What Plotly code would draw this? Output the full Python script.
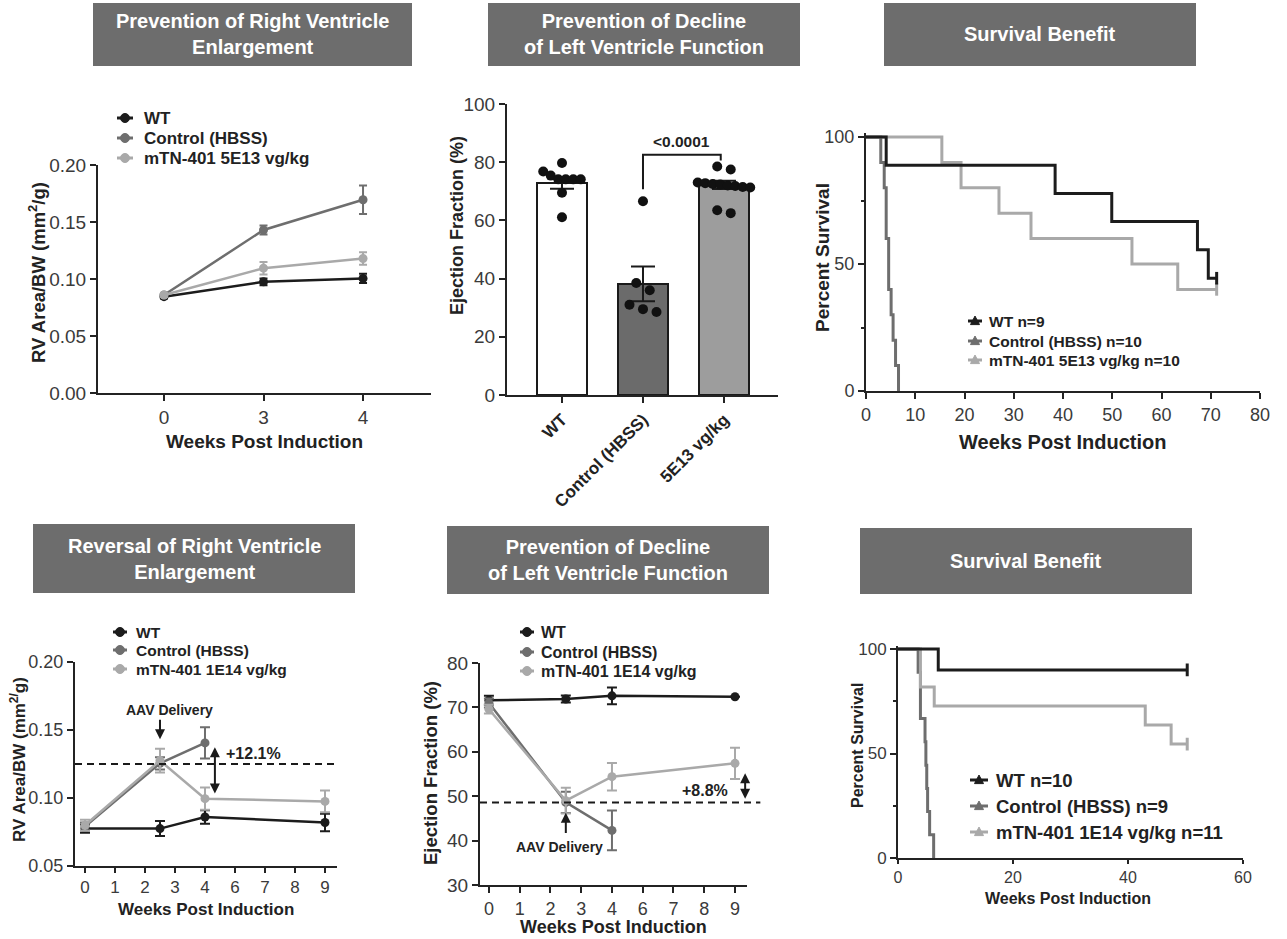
import plotly.graph_objects as go

W, H = 1287, 939
OFF = 0  # page body margin is removed in the written page (see write_html post_script)
FW, FH = W - OFF, H - OFF
def fx(p): return (p - OFF) / FW
def fy(p): return 1 - (p - OFF) / FH

FONT = "Liberation Sans, Arial, sans-serif"
C_WT = "#1c1c1c"; C_CTRL = "#6e6e6e"; C_MTN = "#a9a9a9"
AX = "#232323"; TICK_C = "#3a3a3a"; HEAD = "#6d6d6d"; TXT = "#222222"

# ---------------- Panel A : RV area, prevention ----------------
a_weeks = ["0", "3", "4"]
a_names = ["WT", "Control (HBSS)", "mTN-401 5E13 vg/kg"]
a_wt = [0.0845, 0.0975, 0.1005]
a_wt_err = [0.0015, 0.0030, 0.0040]
a_ctrl = [0.0860, 0.1430, 0.1695]
a_ctrl_err = [0.0015, 0.0040, 0.0125]
a_mtn = [0.0860, 0.1095, 0.1180]
a_mtn_err = [0.0015, 0.0055, 0.0055]

# ---------------- Panel B : ejection fraction bars ----------------
b_groups = ["WT", "Control (HBSS)", "5E13 vg/kg"]
b_mean = [72.7, 38.2, 72.2]
b_sem = [1.8, 6.0, 1.4]
b_wt_pts = [79.7, 76.8, 75.4, 74.1, 74.1, 74.1, 74.1, 69.5, 61.1]
b_ctrl_pts = [66.6, 38.5, 36.0, 31.0, 29.5, 28.5]
b_5e13_pts = [78.5, 77.5, 73.0, 72.8, 72.5, 72.3, 72.0, 71.8, 71.5, 71.3, 63.5, 62.5]
b_pvalue = "<0.0001"

# ---------------- Panel C : survival (5E13) ----------------
c_names = ["WT n=9", "Control (HBSS) n=10", "mTN-401 5E13 vg/kg n=10"]
c_wt_t = [0, 4.1, 38.4, 49.9, 67.3, 69.5, 71.2]
c_wt_s = [100, 88.9, 77.8, 66.7, 55.6, 44.4, 44.4]
c_ctrl_t = [0, 3.0, 3.7, 4.1, 4.6, 5.1, 5.5, 6.0, 6.6]
c_ctrl_s = [100, 90, 80, 60, 40, 30, 20, 10, 0]
c_mtn_t = [0, 15.4, 19.3, 27.0, 33.5, 54.0, 63.3, 71.2]
c_mtn_s = [100, 90, 80, 70, 60, 50, 40, 40]

# ---------------- Panel D : RV area, reversal ----------------
d_names = ["WT", "Control (HBSS)", "mTN-401 1E14 vg/kg"]
d_weeks = [0, 2.5, 4, 9]
d_ctrl_weeks = [0, 2.5, 4]
d_tick_weeks = [0, 1, 2, 3, 4, 6, 7, 8, 9]
d_wt = [0.0775, 0.0775, 0.0860, 0.0820]
d_wt_err = [0.0030, 0.0055, 0.0050, 0.0065]
d_ctrl = [0.0790, 0.1255, 0.1405]
d_ctrl_err = [0.0030, 0.0045, 0.0115]
d_mtn = [0.0800, 0.1275, 0.0995, 0.0975]
d_mtn_err = [0.0040, 0.0088, 0.0082, 0.0080]
d_baseline = 0.125
d_delta = "+12.1%"

# ---------------- Panel E : EF, reversal ----------------
e_weeks = [0, 2.5, 4, 9]
e_ctrl_weeks = [0, 2.5, 4]
e_wt = [71.6, 71.9, 72.6, 72.4]
e_wt_err = [1.0, 0.8, 1.9, 0.0]
e_ctrl = [71.0, 48.6, 42.3]
e_ctrl_err = [1.0, 2.4, 4.5]
e_mtn = [69.6, 49.0, 54.4, 57.4]
e_mtn_err = [1.0, 2.9, 3.1, 3.5]
e_baseline = 48.6
e_delta = "+8.8%"

# ---------------- Panel F : survival (1E14) ----------------
f_names = ["WT n=10", "Control (HBSS) n=9", "mTN-401 1E14 vg/kg n=11"]
f_wt_t = [0, 7.0, 50.3]
f_wt_s = [100, 90, 90]
f_ctrl_t = [0, 3.5, 3.9, 4.7, 4.85, 5.0, 5.15, 5.5, 6.2]
f_ctrl_s = [100, 88.9, 66.7, 55.6, 44.4, 33.3, 22.2, 11.1, 0]
f_mtn_t = [0, 3.9, 6.3, 43.0, 47.5, 50.3]
f_mtn_s = [100, 81.8, 72.7, 63.6, 54.5, 54.5]

headers = [
    ("Prevention of Right Ventricle<br>Enlargement", 93, 412, 3, 66),
    ("Prevention of Decline<br>of Left Ventricle Function", 488, 800, 3, 66),
    ("Survival Benefit", 884, 1196, 3, 66),
    ("Reversal of Right Ventricle<br>Enlargement", 33, 355, 524, 593),
    ("Prevention of Decline<br>of Left Ventricle Function", 447, 769, 526, 594),
    ("Survival Benefit", 860, 1192, 528, 594),
]


def broken_pos(w):
    # the week axis skips 5 (equally spaced ticks 0,1,2,3,4,6,7,8,9)
    return w if w <= 4 else w - 1


fig = go.Figure()
colors = [C_WT, C_CTRL, C_MTN]


def err(arr, color, width=4):
    return dict(type="data", array=arr, visible=True, color=color, thickness=2, width=width)


# ---- Panel A traces
for name, ys, es, col in zip(a_names, [a_wt, a_ctrl, a_mtn], [a_wt_err, a_ctrl_err, a_mtn_err], colors):
    fig.add_trace(go.Scatter(x=a_weeks, y=ys, name=name, mode="lines+markers",
                             line=dict(color=col, width=2.5), marker=dict(color=col, size=9),
                             error_y=err(es, col, 4), xaxis="x", yaxis="y"))

# ---- Panel B traces
b_x = list(range(len(b_groups)))
fig.add_trace(go.Bar(x=b_x, y=b_mean, width=0.62,
                     marker=dict(color=["#ffffff", "#6b6b6b", "#9d9d9d"], line=dict(color="#1a1a1a", width=2)),
                     error_y=dict(type="data", array=b_sem, color="#1a1a1a", thickness=2, width=12),
                     xaxis="x2", yaxis="y2"))

B_XR = [-0.679, 2.667]
B_DOM = (507, 778)
b_pxx = (B_DOM[1] - B_DOM[0]) / (B_XR[1] - B_XR[0])
b_pxy = (395 - 104) / 100.0


def swarm(vals, center, gap_px=7.5, diam_px=10):
    order = sorted(vals, reverse=True)
    clusters = []
    for v in order:
        if clusters and (clusters[-1][-1] - v) * b_pxy < 0.8 * diam_px:
            clusters[-1].append(v)
        else:
            clusters.append([v])
    xs, ys = [], []
    for cl in clusters:
        n = len(cl)
        g = gap_px if n > 3 else gap_px * 1.8
        for i, v in enumerate(cl):
            xs.append(center + (i - (n - 1) / 2) * g / b_pxx)
            ys.append(v)
    return xs, ys


for i, pts in enumerate([b_wt_pts, b_ctrl_pts, b_5e13_pts]):
    xs, ys = swarm(pts, b_x[i])
    fig.add_trace(go.Scatter(x=xs, y=ys, mode="markers",
                             marker=dict(color="#111111", size=10), xaxis="x2", yaxis="y2"))


# ---- KM helper
def km_panel(curves, xa, ya):
    for idx in [1, 2, 0]:  # WT drawn last (on top)
        t, s, col = curves[idx]
        fig.add_trace(go.Scatter(x=t, y=s, mode="lines", line=dict(color=col, width=3, shape="hv"),
                                 xaxis=xa, yaxis=ya, hoverinfo="skip"))
        if s[-1] > 0:  # censored tail mark
            fig.add_trace(go.Scatter(x=[t[-1]], y=[s[-1]], mode="markers",
                                     marker=dict(symbol="line-ns-open", size=9, color=col,
                                                 line=dict(color=col, width=3)),
                                     xaxis=xa, yaxis=ya, hoverinfo="skip"))


km_panel([(c_wt_t, c_wt_s, C_WT), (c_ctrl_t, c_ctrl_s, C_CTRL), (c_mtn_t, c_mtn_s, C_MTN)], "x3", "y3")

# ---- Panel D traces
for name, wk, ys, es, col in zip(d_names, [d_weeks, d_ctrl_weeks, d_weeks], [d_wt, d_ctrl, d_mtn],
                                 [d_wt_err, d_ctrl_err, d_mtn_err], colors):
    fig.add_trace(go.Scatter(x=[broken_pos(w) for w in wk], y=ys, name=name, mode="lines+markers",
                             line=dict(color=col, width=2.5), marker=dict(color=col, size=9),
                             error_y=err(es, col, 5), xaxis="x4", yaxis="y4"))

# ---- Panel E traces
for name, wk, ys, es, col in zip(d_names, [e_weeks, e_ctrl_weeks, e_weeks], [e_wt, e_ctrl, e_mtn],
                                 [e_wt_err, e_ctrl_err, e_mtn_err], colors):
    fig.add_trace(go.Scatter(x=[broken_pos(w) for w in wk], y=ys, name=name, mode="lines+markers",
                             line=dict(color=col, width=2.5), marker=dict(color=col, size=9),
                             error_y=err(es, col, 5), xaxis="x5", yaxis="y5"))

km_panel([(f_wt_t, f_wt_s, C_WT), (f_ctrl_t, f_ctrl_s, C_CTRL), (f_mtn_t, f_mtn_s, C_MTN)], "x6", "y6")


# ---------------- axes ----------------
def ax(dom, rng, size=18, **kw):
    d = dict(domain=dom, range=rng, showline=True, linecolor=AX, linewidth=2, ticks="outside",
             ticklen=6, tickwidth=2, tickcolor=AX, showgrid=False, zeroline=False,
             tickfont=dict(family=FONT, size=size, color=TICK_C), fixedrange=True, automargin=False)
    d.update(kw)
    return d


def xdom(a, b): return [fx(a), fx(b)]
def ydom(top, bottom): return [fy(bottom), fy(top)]


km_c_top = 391 - 101.5 * (391 - 137) / 100
km_f_top = 858 - 101.5 * (858 - 649) / 100
d_tickpos = [broken_pos(w) for w in d_tick_weeks]
d_ticktext = [str(w) for w in d_tick_weeks]

fig.update_layout(
    xaxis=ax(xdom(98, 431), [-0.663, 2.683], 19, type="category", anchor="y"),
    yaxis=ax(ydom(165, 393), [0, 0.20], 19, dtick=0.05, tickformat=".2f", anchor="x"),
    xaxis2=ax(xdom(*B_DOM), B_XR, 17, tickvals=b_x, ticktext=b_groups, tickangle=-45,
              tickfont=dict(family=FONT, size=17, color=TXT, weight="bold"), anchor="y2"),
    yaxis2=ax(ydom(104, 395), [0, 100], 19, dtick=20, anchor="x2"),
    xaxis3=ax(xdom(866, 1260), [0, 80], 18, dtick=10, anchor="y3"),
    yaxis3=ax(ydom(km_c_top, 391), [0, 101.5], 18, tickvals=[0, 50, 100], anchor="x3",
              minor=dict(tickvals=[25, 75], ticks="outside", ticklen=3, tickwidth=1.5, tickcolor=AX)),
    xaxis4=ax(xdom(75, 337), [-0.333, 8.4], 17, tickvals=d_tickpos, ticktext=d_ticktext, anchor="y4",
              ticklen=5),
    yaxis4=ax(ydom(662, 866), [0.05, 0.20], 18, dtick=0.05, tickformat=".2f", anchor="x4"),
    xaxis5=ax(xdom(480, 747), [-0.29, 8.39], 18, tickvals=d_tickpos, ticktext=d_ticktext, anchor="y5"),
    yaxis5=ax(ydom(663, 885), [30, 80], 19, dtick=10, anchor="x5"),
    xaxis6=ax(xdom(898, 1243), [0, 60], 16, dtick=20, anchor="y6", ticklen=4),
    yaxis6=ax(ydom(km_f_top, 858), [0, 101.5], 17, tickvals=[0, 50, 100], anchor="x6",
              minor=dict(tickvals=[25, 75], ticks="outside", ticklen=3, tickwidth=1.5, tickcolor=AX)),
)

# ---------------- annotations & shapes ----------------
ann = []
shapes = []

for text, x0, x1, y0, y1 in headers:
    shapes.append(dict(type="rect", xref="paper", yref="paper", x0=fx(x0), x1=fx(x1), y0=fy(y1), y1=fy(y0),
                       fillcolor=HEAD, line=dict(width=0), layer="below"))
    ann.append(dict(xref="paper", yref="paper", x=fx((x0 + x1) / 2), y=fy((y0 + y1) / 2), text=text,
                    showarrow=False, xanchor="center", yanchor="middle",
                    font=dict(family=FONT, size=20, color="white", weight="bold")))


def title(text, x, y, size, angle=0):
    ann.append(dict(xref="paper", yref="paper", x=fx(x), y=fy(y), text=text, showarrow=False,
                    xanchor="center", yanchor="middle", textangle=angle,
                    font=dict(family=FONT, size=size, color=TXT, weight="bold")))


title("Weeks Post Induction", 264, 441, 19)
title("RV Area/BW (mm<sup>2</sup>/g)", 37, 273, 18.5, -90)
title("Ejection Fraction (%)", 457, 226, 18, -90)
title("Weeks Post Induction", 1062, 442, 20)
title("Percent Survival", 822, 258, 19, -90)
title("Weeks Post Induction", 206, 909, 17)
title("RV Area/BW (mm<sup>2/</sup>g)", 18, 760, 17, -90)
title("Weeks Post Induction", 613, 927, 18)
title("Ejection Fraction (%)", 430, 773, 18.5, -90)
title("Weeks Post Induction", 1068, 898, 16)
title("Percent Survival", 857, 746, 16, -90)


# ---- legends (drawn as key symbols + real text)
def legend(names, cols, mx, rows, tx, size, symbol, half=8, r=4.5):
    for name, col, ry in zip(names, cols, rows):
        shapes.append(dict(type="line", xref="paper", yref="paper", x0=fx(mx - half), x1=fx(mx + half),
                           y0=fy(ry), y1=fy(ry), line=dict(color=col, width=3)))
        if symbol == "circle":
            shapes.append(dict(type="circle", xref="paper", yref="paper", x0=fx(mx - r), x1=fx(mx + r),
                               y0=fy(ry + r), y1=fy(ry - r), fillcolor=col, line=dict(color=col, width=1)))
        else:
            path = "M {},{} L {},{} L {},{} Z".format(fx(mx - r), fy(ry + r * 0.8), fx(mx + r), fy(ry + r * 0.8),
                                                      fx(mx), fy(ry - r * 1.1))
            shapes.append(dict(type="path", xref="paper", yref="paper", path=path, fillcolor=col,
                               line=dict(color=col, width=1)))
        ann.append(dict(xref="paper", yref="paper", x=fx(tx), y=fy(ry), text=name, showarrow=False,
                        xanchor="left", yanchor="middle",
                        font=dict(family=FONT, size=size, color=TXT, weight="bold")))


legend(a_names, colors, 125, [118, 138, 158], 142, 17, "circle")
legend(c_names, colors, 975, [321, 341, 360], 987, 15.5, "triangle", half=7)
legend(d_names, colors, 120, [632, 650, 669], 134, 15.5, "circle", half=7)
legend(d_names, colors, 527, [632, 652, 671], 539, 16, "circle", half=7)
legend(f_names, colors, 979, [780, 806, 832], 994, 18.5, "triangle", half=9)

# significance bracket in panel B
shapes.append(dict(type="path", xref="x2", yref="y2", path="M 1,70.7 L 1,82.6 L 1.96,82.6 L 1.96,80.6",
                   line=dict(color="#1a1a1a", width=2)))
ann.append(dict(xref="x2", yref="y2", x=1.48, y=87, text=b_pvalue, showarrow=False,
                font=dict(family=FONT, size=15.5, color=TXT, weight="bold")))

# panel D annotations
shapes.append(dict(type="line", xref="x4 domain", yref="y4", x0=0, x1=1, y0=d_baseline, y1=d_baseline,
                   line=dict(color="#1a1a1a", width=2, dash="7px,5px")))
ann.append(dict(xref="x4", yref="y4", x=2.83, y=0.1647, text="AAV Delivery", showarrow=False,
                font=dict(family=FONT, size=14, color=TXT, weight="bold")))
ann.append(dict(xref="x4", yref="y4", x=2.5, y=0.1432, ax=2.5, ay=0.1586, axref="x4", ayref="y4",
                text="", showarrow=True, arrowhead=2, arrowsize=1, arrowwidth=2, arrowcolor="#1a1a1a"))
ann.append(dict(xref="x4", yref="y4", x=4.33, y=0.1034, ax=4.33, ay=0.1385, axref="x4", ayref="y4",
                text="", showarrow=True, arrowhead=2, startarrowhead=2, arrowside="end+start",
                arrowsize=1, startarrowsize=1, arrowwidth=2, arrowcolor="#1a1a1a"))
ann.append(dict(xref="x4", yref="y4", x=5.6, y=0.133, text=d_delta, showarrow=False,
                font=dict(family=FONT, size=16, color=TXT, weight="bold")))

# panel E annotations
shapes.append(dict(type="line", xref="x5 domain", yref="y5", x0=0, x1=1.05, y0=e_baseline, y1=e_baseline,
                   line=dict(color="#1a1a1a", width=2, dash="7px,5px")))
ann.append(dict(xref="x5", yref="y5", x=2.31, y=38.6, text="AAV Delivery", showarrow=False,
                font=dict(family=FONT, size=14, color=TXT, weight="bold")))
ann.append(dict(xref="x5", yref="y5", x=2.5, y=46.3, ax=2.5, ay=41.4, axref="x5", ayref="y5",
                text="", showarrow=True, arrowhead=2, arrowsize=1, arrowwidth=2, arrowcolor="#1a1a1a"))
ann.append(dict(xref="x5", yref="y5", x=8.33, y=49.4, ax=8.33, ay=55.5, axref="x5", ayref="y5",
                text="", showarrow=True, arrowhead=2, startarrowhead=2, arrowside="end+start",
                arrowsize=1, startarrowsize=1, arrowwidth=2, arrowcolor="#1a1a1a"))
ann.append(dict(xref="x5", yref="y5", x=7.02, y=51.2, text=e_delta, showarrow=False,
                font=dict(family=FONT, size=16, color=TXT, weight="bold")))

fig.update_layout(
    annotations=ann, shapes=shapes,
    width=FW, height=FH, margin=dict(l=0, r=0, t=0, b=0),
    paper_bgcolor="white", plot_bgcolor="rgba(0,0,0,0)",
    template="none", showlegend=False, bargap=0,
    font=dict(family=FONT, color=TXT),
)

fig.write_html("out.html", config={"displayModeBar": False},
               post_script="document.body.style.margin='0';document.body.style.overflow='hidden';")
